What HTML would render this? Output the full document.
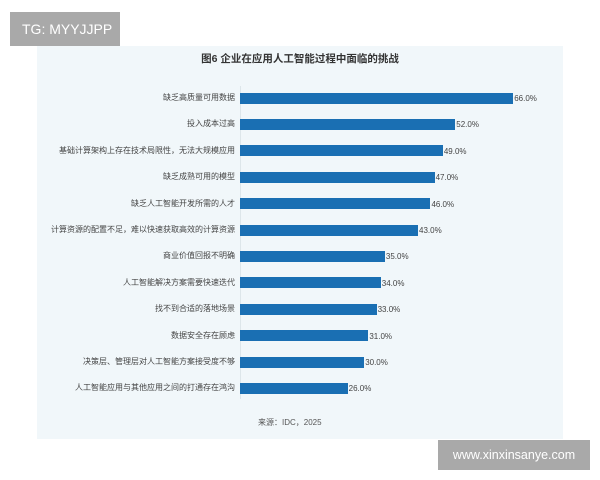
<!DOCTYPE html><html><head><meta charset="utf-8"><style>
body{margin:0;width:600px;height:480px;background:#fff;position:relative;overflow:hidden;font-family:"Liberation Sans","Noto Sans CJK SC",sans-serif}
.panel{position:absolute;left:37px;top:46px;width:526px;height:393px;background:#f1f7fa}
.tg{position:absolute;left:10px;top:12px;width:110px;height:34px;background:#a9a9a9;color:#fff;font-size:14px;line-height:34px;padding-left:12px;box-sizing:border-box}
.wm{position:absolute;left:438px;top:440px;width:152px;height:30px;background:#a9a9a9;color:#fff;font-size:12.5px;line-height:30px;text-align:center}
.title{position:absolute;left:0;width:600px;top:51px;text-align:center;font-size:10.5px;font-weight:bold;color:#333}
.axis{position:absolute;left:240px;top:86px;width:1px;height:313px;background:#dde6ea}
.lab{position:absolute;right:365px;font-size:8px;color:#444;white-space:nowrap;line-height:10px}
.bar{position:absolute;left:240px;height:11px;background:#1a6fb3}
.val{position:absolute;font-size:8px;color:#444;line-height:10px}
.src{position:absolute;left:258px;top:417px;font-size:8px;color:#555}
</style></head><body>
<div class="panel"></div>
<div class="tg">TG: MYYJJPP</div>
<div class="title">图6 企业在应用人工智能过程中面临的挑战</div>
<div class="axis"></div>
<div id="c"></div>
<div class="src">来源：IDC，2025</div>
<div class="wm">www.xinxinsanye.com</div>
<script>
var d=[["缺乏高质量可用数据",66],["投入成本过高",52],["基础计算架构上存在技术局限性，无法大规模应用",49],["缺乏成熟可用的模型",47],["缺乏人工智能开发所需的人才",46],["计算资源的配置不足，难以快速获取高效的计算资源",43],["商业价值回报不明确",35],["人工智能解决方案需要快速迭代",34],["找不到合适的落地场景",33],["数据安全存在顾虑",31],["决策层、管理层对人工智能方案接受度不够",30],["人工智能应用与其他应用之间的打通存在鸿沟",26]];
var h="";d.forEach(function(r,i){var y=98+i*26.4;var w=r[1]*4.14;
h+='<div class="lab" style="top:'+(y-5)+'px">'+r[0]+'</div><div class="bar" style="top:'+(y-5.5)+'px;width:'+w+'px"></div><div class="val" style="top:'+(y-4)+'px;left:'+(241+w)+'px">'+r[1].toFixed(1)+'%</div>';});
document.getElementById("c").innerHTML=h;
</script>
</body></html>
